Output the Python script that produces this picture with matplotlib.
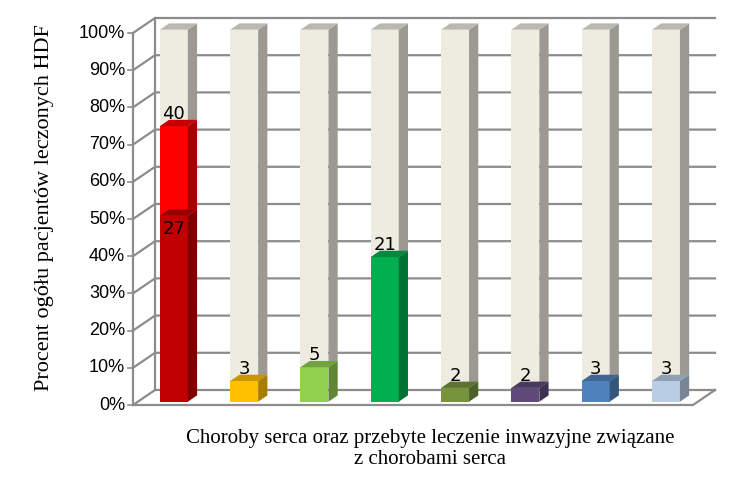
import matplotlib
matplotlib.use("Agg")
import matplotlib.pyplot as plt
from matplotlib.patches import Polygon
import numpy as np

# data: number of patients (n = 54), stacked first bar has two segments
total = 54
counts = [27, 3, 5, 21, 2, 2, 3, 3]
extra_first = 13          # second segment of the first bar (cumulative label 40)
labels = ["27", "3", "5", "21", "2", "2", "3", "3"]
colors = ["#C00000", "#FFC000", "#92D050", "#00B050", "#77933C", "#604A7B", "#4F81BD", "#B9CDE5"]
yticks = list(range(0, 101, 10))

W, H = 748, 482
fig = plt.figure(figsize=(W / 100, H / 100), dpi=100)
ax = fig.add_axes([0, 0, 1, 1])
ax.set_xlim(0, W)
ax.set_ylim(H, 0)
ax.axis("off")

# projection of (column position, percent, depth) onto the canvas
X0, Y0, PPU = 133, 405, 3.72
DX, DY = 22, -15
def proj(x, pct, d):
    return X0 + x + DX * d, Y0 - pct * PPU + DY * d

def darker(c, f):
    r, g, b = matplotlib.colors.to_rgb(c)
    return (r * f, g * f, b * f)

grid = "#8C8C8C"
right_end = 693
# walls / gridlines
for t in yticks:
    a = proj(0, t, 0); b = proj(0, t, 1); c = proj(right_end - X0, t, 1)
    ax.plot([a[0], b[0], c[0]], [a[1], b[1], c[1]], color=grid, lw=1.6, zorder=1)
    ax.plot([a[0] - 5, a[0]], [a[1], a[1]], color=grid, lw=1.2, zorder=1)
    ax.text(a[0] - 8, a[1], f"{t}%", ha="right", va="center", fontsize=13,
            family="Liberation Sans", color="#000000")
ax.plot(*zip(proj(0, 0, 0), proj(0, 100, 0)), color=grid, lw=1.6, zorder=1)
ax.plot(*zip(proj(0, 0, 1), proj(0, 100, 1)), color=grid, lw=1.6, zorder=1)
fl = [proj(0, 0, 0), proj(right_end - X0, 0, 0), proj(right_end - X0, 0, 1)]
ax.plot(*zip(*fl), color=grid, lw=1.6, zorder=1)

bw, sd = 28, 0.42   # bar width (px) and bar depth (fraction)
d0 = 0.22
def box(xl, lo, hi, col, z):
    f = [proj(xl, lo, d0), proj(xl + bw, lo, d0), proj(xl + bw, hi, d0), proj(xl, hi, d0)]
    s = [proj(xl + bw, lo, d0), proj(xl + bw, lo, d0 + sd), proj(xl + bw, hi, d0 + sd), proj(xl + bw, hi, d0)]
    tp = [proj(xl, hi, d0), proj(xl + bw, hi, d0), proj(xl + bw, hi, d0 + sd), proj(xl, hi, d0 + sd)]
    ax.add_patch(Polygon(f, closed=True, fc=col, ec="none", zorder=z))
    ax.add_patch(Polygon(s, closed=True, fc=darker(col, 0.65), ec="none", zorder=z))
    ax.add_patch(Polygon(tp, closed=True, fc=darker(col, 0.78), ec="none", zorder=z))

rest = "#EEECE1"
for i, (n, col) in enumerate(zip(counts, colors)):
    xl = 22 + 70.3 * i
    p = n / total * 100
    segs = [(0, p, col)]
    top = p
    if i == 0:
        p2 = (n + extra_first) / total * 100
        segs.append((p, p2, "#FF0000"))
        top = p2
    segs.append((top, 100, rest))
    for k, (lo, hi, c) in enumerate(reversed(segs)):
        box(xl, lo, hi, c, 3 + k)
    fx, fy = proj(xl + bw / 2, p, d0)
    if i == 0:
        ax.text(fx, fy + 4, labels[0], ha="center", va="top", fontsize=13, zorder=10)
        tx, ty = proj(xl + bw / 2, top, d0)
        ax.text(tx, ty - 3, str(n + extra_first), ha="center", va="bottom", fontsize=13, zorder=10)
    else:
        ax.text(fx, fy - 3, labels[i], ha="center", va="bottom", fontsize=13, zorder=10)

ax.text(45, 208, "Procent ogółu pacjentów leczonych HDF", rotation=90, ha="center", va="center",
        fontsize=16, family="Liberation Serif")
ax.text(430, 449, "Choroby serca oraz przebyte leczenie inwazyjne związane\nz chorobami serca",
        ha="center", va="center", fontsize=15, family="Liberation Serif", linespacing=1.2)

fig.savefig("out.png", dpi=100)
